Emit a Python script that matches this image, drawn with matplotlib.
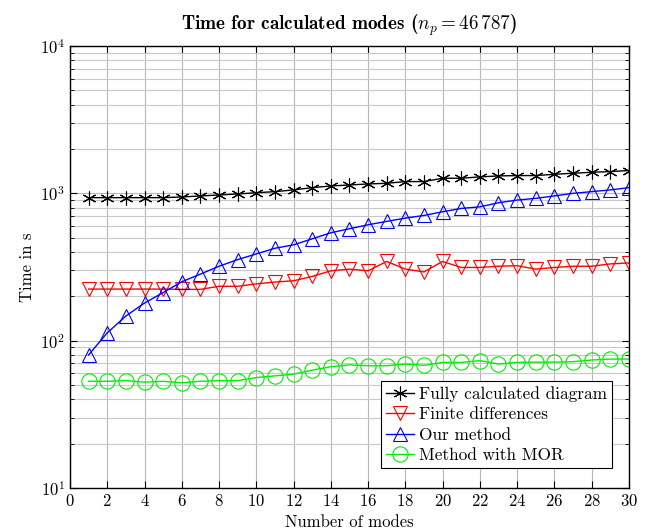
import matplotlib.pyplot as plt
from matplotlib.ticker import LogLocator, FixedLocator

plt.rcParams['font.family'] = 'serif'
plt.rcParams['font.serif'] = ['cmr10']
plt.rcParams['mathtext.fontset'] = 'cm'
plt.rcParams['axes.formatter.use_mathtext'] = True

# data
modes = list(range(1, 31))
t_full = [935, 935, 935, 935, 935, 945, 960, 975, 990, 1010,
          1027, 1055, 1093, 1122, 1140, 1158, 1170, 1202, 1202, 1266,
          1266, 1293, 1313, 1320, 1320, 1347, 1369, 1390, 1405, 1429]
t_fd = [224, 224, 224, 224, 224, 223, 223, 234, 234, 243,
        250, 255, 273, 298, 306, 298, 345, 306, 293, 345,
        314, 314, 320, 323, 306, 314, 320, 320, 332, 337]
t_ours = [80, 113, 147, 180, 212, 251, 283, 320, 355, 388,
          424, 447, 491, 540, 575, 612, 645, 679, 708, 750,
          790, 810, 863, 900, 925, 960, 1000, 1027, 1055, 1093]
t_mor = [53, 53, 53.5, 52.3, 53, 51.8, 53, 53.5, 53.5, 56.2,
         57.7, 59.2, 63.1, 66.6, 68.5, 67.6, 67.6, 69.4, 68, 71.2,
         71.2, 73.2, 69.4, 71.2, 71.5, 71.5, 72, 73.9, 75, 75]

fig = plt.figure(figsize=(6.45, 5.29), dpi=100)
ax = fig.add_axes([0.1085, 0.0775, 0.8665, 0.8355])

ax.plot(modes, t_full, color='black', lw=1, marker=(6, 2, 0), ms=10, mew=0.8,
        label='Fully calculated diagram')
ax.plot(modes, t_fd, color='red', lw=1, marker='v', ms=9.5, mfc='none', mew=0.8,
        label='Finite differences')
ax.plot(modes, t_ours, color='blue', lw=1, marker='^', ms=9.5, mfc='none', mew=0.8,
        label='Our method')
ax.plot(modes, t_mor, color='#00ee00', lw=1, marker='o', ms=11, mfc='none', mew=0.8,
        label='Method with MOR')

ax.set_yscale('log')
ax.set_xlim(0, 30)
ax.set_ylim(10, 10000)
ax.xaxis.set_major_locator(FixedLocator(range(0, 31, 2)))
ax.yaxis.set_major_locator(LogLocator(base=10, numticks=10))
ax.yaxis.set_minor_locator(LogLocator(base=10, subs=range(2, 10), numticks=10))

ax.grid(True, which='major', color='#b8b8b8', lw=0.8)
ax.grid(True, which='minor', axis='y', color='#c8c8c8', lw=0.8)
ax.set_axisbelow(True)

ax.tick_params(which='both', direction='in', top=True, right=True, labelsize=12)
ax.tick_params(which='major', length=5)
ax.tick_params(which='minor', length=3)
for s in ax.spines.values():
    s.set_linewidth(1)

ax.set_xlabel('Number of modes', fontsize=12)
ax.set_ylabel('Time in s', fontsize=12)
ax.set_title(r'Time for calculated modes ($n_p = 46\,787$)', fontsize=13.8,
             fontfamily='cmb10', pad=12)

leg = ax.legend(loc='lower right', bbox_to_anchor=(0.985, 0.025), fontsize=12.4,
                fancybox=False, framealpha=1, edgecolor='black',
                borderpad=0.3, labelspacing=0.3, handlelength=1.6,
                handletextpad=0.3)
leg.get_frame().set_linewidth(0.8)

fig.savefig('out.png', dpi=100)
